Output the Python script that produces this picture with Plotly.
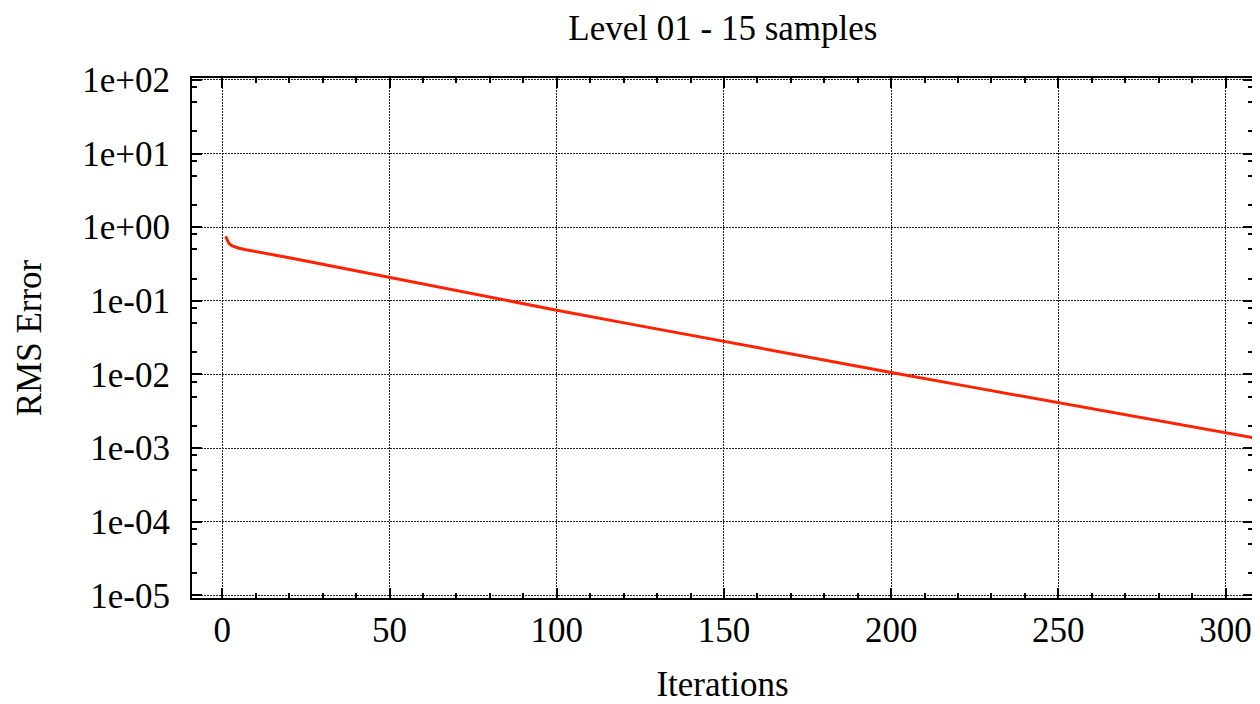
import plotly.graph_objects as go

# Data
iterations = [1, 2, 3, 4, 5, 7, 10, 15, 20, 30, 40, 50, 75, 100, 125, 150, 175,
              200, 225, 250, 275, 300, 308]
rms_error = [0.75, 0.60, 0.556, 0.535, 0.519, 0.495, 0.468, 0.427, 0.386, 0.314,
             0.255, 0.208, 0.1245, 0.0746, 0.0457, 0.0280, 0.0172, 0.01064,
             0.00662, 0.00413, 0.00258, 0.00162, 0.00139]

y_tick_vals = [1e2, 1e1, 1e0, 1e-1, 1e-2, 1e-3, 1e-4, 1e-5]
y_tick_text = ["1e+02", "1e+01", "1e+00", "1e-01", "1e-02", "1e-03", "1e-04", "1e-05"]
y_minor_vals = [m * 10.0 ** e for e in range(-6, 3) for m in (2, 5, 8)]

x_tick_vals = [0, 50, 100, 150, 200, 250, 300]

title_text = "Level 01 - 15 samples"
x_title = "Iterations"
y_title = "RMS Error"

FONT = "Liberation Serif, Times New Roman, serif"
FS = 35
GRID_DASH = "1.5px,1.5px"

# The page body has an 8px margin, so the figure is sized to fit the window.
W, H = 1252, 696

fig = go.Figure()
fig.add_trace(go.Scatter(
    x=iterations, y=rms_error, mode="lines",
    line=dict(color="#ff2200", width=3),
    showlegend=False,
))

fig.update_layout(
    width=W, height=H,
    margin=dict(l=184, r=7, t=70, b=106, autoexpand=False),
    paper_bgcolor="white", plot_bgcolor="white",
    font=dict(family=FONT, size=FS, color="black"),
    title=dict(text=title_text, x=0.571, xanchor="center", y=0.9713, yanchor="middle",
               automargin=False,
               font=dict(family=FONT, size=FS, color="black")),
    xaxis=dict(
        range=[-9.06, 308.2], automargin=False,
        tickmode="array", tickvals=x_tick_vals,
        ticks="inside", ticklen=10, tickwidth=1.5, tickcolor="black",
        showline=True, linecolor="black", linewidth=2, mirror="allticks",
        showgrid=True, gridcolor="#222222", gridwidth=1, griddash=GRID_DASH,
        zeroline=False,
        minor=dict(dtick=10, tick0=0, ticks="inside", ticklen=5, tickwidth=1.5,
                   tickcolor="black", showgrid=False),
        title=dict(text=x_title, standoff=28, font=dict(family=FONT, size=FS)),
        tickfont=dict(family=FONT, size=FS),
    ),
    yaxis=dict(
        type="log", range=[-5.037, 2.027], automargin=False,
        tickmode="array", tickvals=y_tick_vals, ticktext=y_tick_text,
        ticks="inside", ticklen=10, tickwidth=1.5, tickcolor="black",
        showline=True, linecolor="black", linewidth=2, mirror="allticks",
        showgrid=True, gridcolor="#222222", gridwidth=1, griddash=GRID_DASH,
        zeroline=False,
        minor=dict(tickmode="array", tickvals=y_minor_vals, ticks="inside",
                   ticklen=5, tickwidth=1.5, tickcolor="black", showgrid=False),
        title=dict(text=y_title, standoff=30, font=dict(family=FONT, size=FS)),
        tickfont=dict(family=FONT, size=FS),
        ticklabelstandoff=13,
    ),
)

fig.write_html("out.html")
